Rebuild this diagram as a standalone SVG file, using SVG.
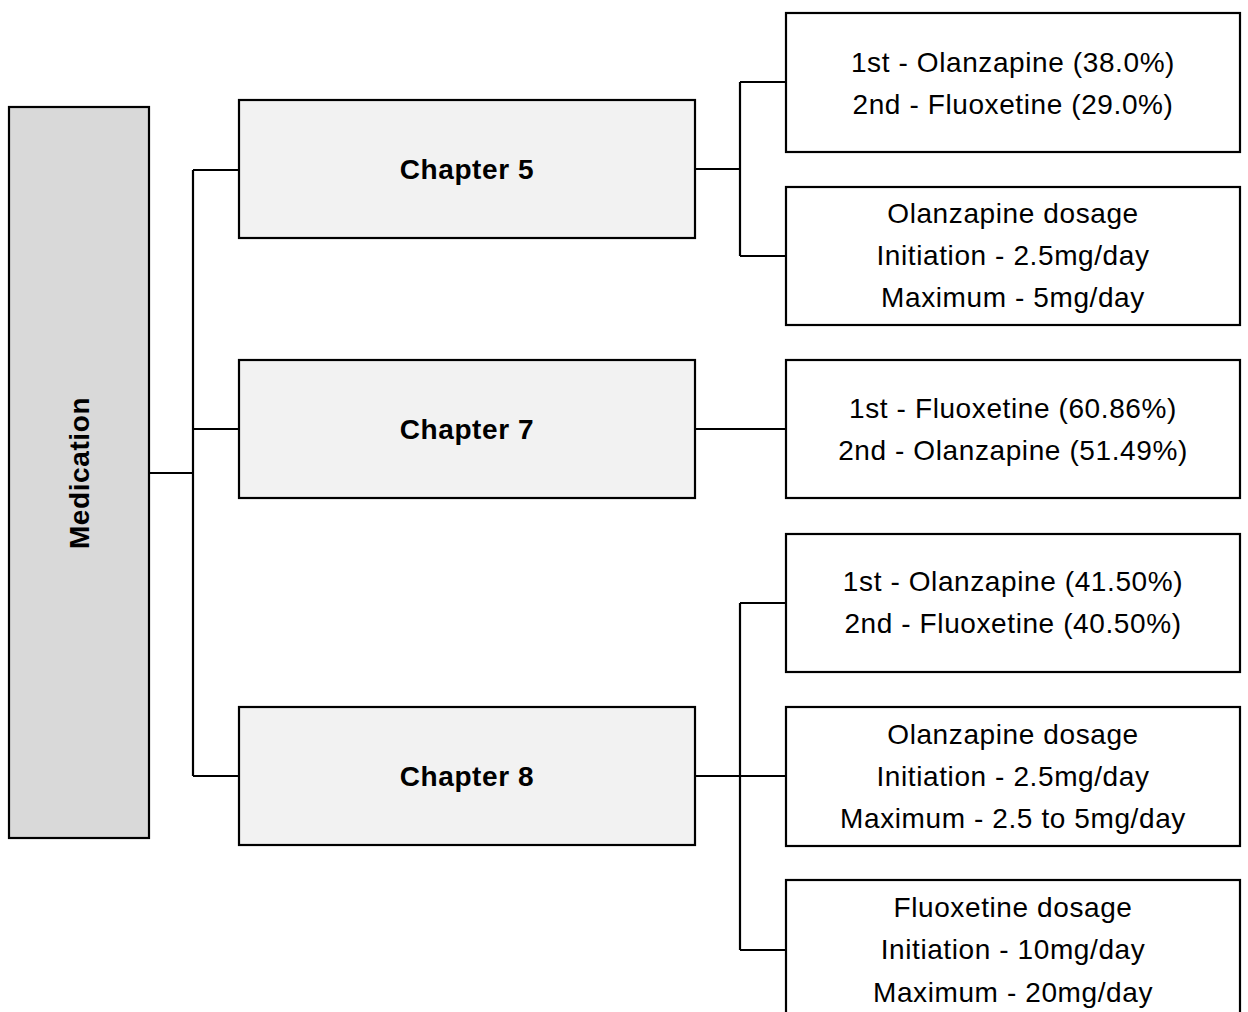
<svg xmlns="http://www.w3.org/2000/svg" width="1248" height="1012" viewBox="0 0 1248 1012">
<style>
.box{stroke:#000;stroke-width:2.2;}
.leaf{fill:#fff;}
.ch{fill:#f2f2f2;}
.root{fill:#d9d9d9;}
.t{font-family:"Liberation Sans",Arial,sans-serif;font-size:28px;letter-spacing:0.6px;fill:#000;text-anchor:middle;}
.b{font-weight:bold;}
.conn{fill:none;stroke:#000;stroke-width:2.2;}
</style>
<rect width="1248" height="1012" fill="#fff"/>
<g id="connectors">
<path class="conn" d="M149 473H193M193 170V776M193 170H239M193 429H239M193 776H239"/>
<path class="conn" d="M695 169H740M740 82V256M740 82H786M740 256H786"/>
<path class="conn" d="M695 429H786"/>
<path class="conn" d="M695 776H786M740 603V950M740 603H786M740 950H786"/>
</g>
<g id="medication">
<rect class="box root" x="9" y="107" width="140" height="731"/>
<text class="t b" transform="translate(89 473) rotate(-90)">Medication</text>
</g>
<g id="chapter5">
<rect class="box ch" x="239" y="100" width="456" height="138"/>
<text class="t b" x="467" y="179">Chapter 5</text>
</g>
<g id="chapter7">
<rect class="box ch" x="239" y="360" width="456" height="138"/>
<text class="t b" x="467" y="439">Chapter 7</text>
</g>
<g id="chapter8">
<rect class="box ch" x="239" y="707" width="456" height="138"/>
<text class="t b" x="467" y="786">Chapter 8</text>
</g>
<g id="c5a">
<rect class="box leaf" x="786" y="13" width="454" height="139"/>
<text class="t" x="1013" y="72">1st - Olanzapine (38.0%)</text>
<text class="t" x="1013" y="114">2nd - Fluoxetine (29.0%)</text>
</g>
<g id="c5b">
<rect class="box leaf" x="786" y="187" width="454" height="138"/>
<text class="t" x="1013" y="223">Olanzapine dosage</text>
<text class="t" x="1013" y="265">Initiation - 2.5mg/day</text>
<text class="t" x="1013" y="307">Maximum - 5mg/day</text>
</g>
<g id="c7a">
<rect class="box leaf" x="786" y="360" width="454" height="138"/>
<text class="t" x="1013" y="418">1st - Fluoxetine (60.86%)</text>
<text class="t" x="1013" y="460">2nd - Olanzapine (51.49%)</text>
</g>
<g id="c8a">
<rect class="box leaf" x="786" y="534" width="454" height="138"/>
<text class="t" x="1013" y="591">1st - Olanzapine (41.50%)</text>
<text class="t" x="1013" y="633">2nd - Fluoxetine (40.50%)</text>
</g>
<g id="c8b">
<rect class="box leaf" x="786" y="707" width="454" height="139"/>
<text class="t" x="1013" y="744">Olanzapine dosage</text>
<text class="t" x="1013" y="786">Initiation - 2.5mg/day</text>
<text class="t" x="1013" y="828">Maximum - 2.5 to 5mg/day</text>
</g>
<g id="c8c">
<rect class="box leaf" x="786" y="880" width="454" height="139"/>
<text class="t" x="1013" y="917">Fluoxetine dosage</text>
<text class="t" x="1013" y="959">Initiation - 10mg/day</text>
<text class="t" x="1013" y="1002">Maximum - 20mg/day</text>
</g>
</svg>
